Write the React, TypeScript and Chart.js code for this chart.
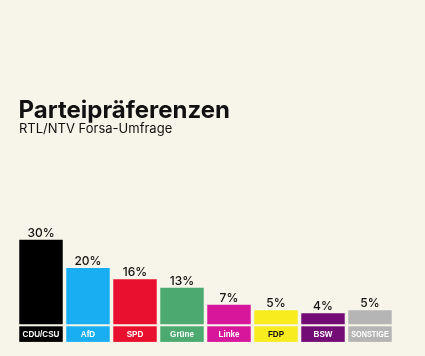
import React, { useEffect, useRef } from "react";
import { Chart, registerables } from "chart.js";

Chart.register(...registerables);

const categories = ["CDU/CSU", "AfD", "SPD", "Grüne", "Linke", "FDP", "BSW", "SONSTIGE"];
const values = [30, 20, 16, 13, 7, 5, 4, 5];
const barColors = ["#000000", "#19aef2", "#e8102e", "#4caa70", "#d6179b", "#f8ec1e", "#740c75", "#b5b5b5"];
const labelTextColors = ["#ffffff", "#ffffff", "#ffffff", "#ffffff", "#ffffff", "#111111", "#ffffff", "#ffffff"];
const titleText = "Parteipräferenzen";
const subtitleText = "RTL/NTV Forsa-Umfrage";

const BG = "#f7f5e9";

const decorPlugin = {
  id: "decor",
  afterDatasetsDraw(chart: any) {
    const ctx = chart.ctx;
    const meta = chart.getDatasetMeta(0);
    const area = chart.chartArea;
    ctx.save();
    // title
    ctx.fillStyle = "#111111";
    ctx.textAlign = "left";
    ctx.textBaseline = "alphabetic";
    ctx.font = "700 24px Inter";
    ctx.fillText(titleText, 18.5, 117.5);
    ctx.font = "400 13px Inter";
    ctx.fillText(subtitleText, 19, 132.5);

    const sx = 0.85;
    meta.data.forEach((el: any, i: number) => {
      const w = el.width;
      const x0 = el.x - w / 2;
      // value labels
      ctx.fillStyle = "#111111";
      ctx.textAlign = "center";
      ctx.textBaseline = "alphabetic";
      ctx.font = "500 12px Inter";
      ctx.fillText(values[i] + "%", el.x, el.y - 3);
      // category boxes
      ctx.fillStyle = barColors[i];
      ctx.fillRect(x0, area.bottom + 1.8, w, 15.6);
      ctx.fillStyle = labelTextColors[i];
      ctx.textBaseline = "middle";
      ctx.font = "700 9.5px 'Liberation Sans'";
      ctx.save();
      ctx.translate(el.x, area.bottom + 10);
      ctx.scale(sx, 1);
      ctx.fillText(categories[i], 0, 0, (w - 6) / sx);
      ctx.restore();
    });
    ctx.restore();
  },
};

export default function App() {
  const ref = useRef<HTMLCanvasElement>(null);
  useEffect(() => {
    document.body.style.margin = "0";
    document.body.style.background = BG;
    const chart = new Chart(ref.current as HTMLCanvasElement, {
      type: "bar",
      data: {
        labels: categories,
        datasets: [
          {
            data: values,
            backgroundColor: barColors,
            borderWidth: 0,
            categoryPercentage: 1,
            barPercentage: 0.925,
          },
        ],
      },
      options: {
        animation: false,
        responsive: false,
        maintainAspectRatio: false,
        layout: { padding: { left: 17.5, right: 31.5, top: 225.5, bottom: 31.5 } },
        scales: {
          x: { display: false },
          y: { display: false, min: 0, max: 35 },
        },
        plugins: {
          legend: { display: false },
          tooltip: { enabled: false },
          title: { display: false },
        },
      },
      plugins: [decorPlugin],
    });
    return () => chart.destroy();
  }, []);
  return (
    <div style={{ position: "absolute", left: 0, top: 0, width: 425, height: 356, background: BG }}>
      <canvas ref={ref} width={425} height={356} style={{ display: "block", width: 425, height: 356 }} />
    </div>
  );
}
